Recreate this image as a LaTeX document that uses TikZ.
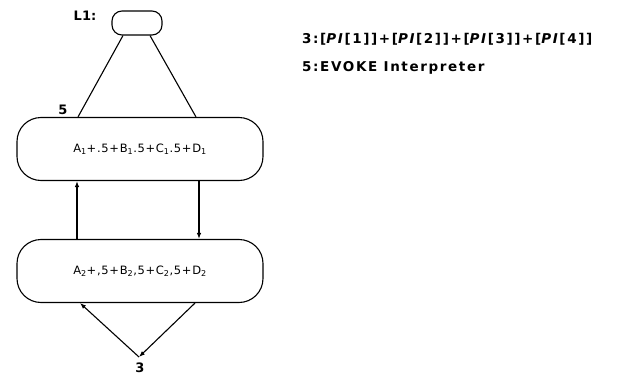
\documentclass[tikz,border=0pt]{standalone}
\usepackage{fontspec}
\setmainfont{DejaVu Sans}
\usetikzlibrary{arrows.meta, positioning, calc}

\tikzset{
  blob/.style={draw, line width=1.1pt, rounded corners=24pt,
    minimum width=246pt, minimum height=63pt, inner sep=0pt,
    font=\fontsize{11.5}{13}\selectfont\addfontfeature{LetterSpace=6}},
  headbox/.style={draw, line width=1.1pt, rounded corners=10pt,
    minimum width=50pt, minimum height=24pt, inner sep=0pt},
  link/.style={line width=1.1pt},
  arr/.style={line width=1.1pt, -{Latex[length=6pt,width=4.5pt]}},
  tag/.style={font=\fontsize{13}{15}\selectfont\bfseries},
  note/.style={anchor=west, inner sep=0pt,
    font=\fontsize{13.5}{15}\selectfont\bfseries\addfontfeature{LetterSpace=12}}
}

\begin{document}
\begin{tikzpicture}[x=1pt, y=-1pt]
    \useasboundingbox (0,0) rectangle (635,380);

    % Head node
    \node[headbox] (l1) at (137,23) {};
    \node[tag] (l1lbl) at (85,16) {L1:};

    % The two states
    \node[blob] (upper) at (140,149) {A\textsubscript{1}+.5+B\textsubscript{1}.5+C\textsubscript{1}.5+D\textsubscript{1}};
    \node[blob] (lower) at (140,271) {A\textsubscript{2}+,5+B\textsubscript{2},5+C\textsubscript{2},5+D\textsubscript{2}};
    \coordinate (apex) at (139,357);

    % Legs from the head
    \draw[link] ($(l1.south)+(-14,0)$) -- ([xshift=-62pt]upper.north);
    \draw[link] ($(l1.south)+(13,0)$) -- ([xshift=56pt]upper.north);
    \node[tag] (five) at (63,110) {5};

    % Transitions between the states
    \draw[arr] ([xshift=-63pt]lower.north) -- ([xshift=-63pt]upper.south);
    \draw[arr] ([xshift=59pt]upper.south) -- ([xshift=59pt]lower.north);

    % Loop through the bottom
    \draw[arr] (apex) -- ([xshift=-60pt]lower.south);
    \draw[arr] ([xshift=55pt]lower.south) -- (apex);
    \node[tag] (three) at (140,368) {3};

    % Notes
    \node[note] (n3) at (302,39) {3:[\textit{PI}[1]]+[\textit{PI}[2]]+[\textit{PI}[3]]+[\textit{PI}[4]]};
    \node[note] (n5) at (302,68) {5:EVOKE Interpreter};
\end{tikzpicture}
\end{document}
